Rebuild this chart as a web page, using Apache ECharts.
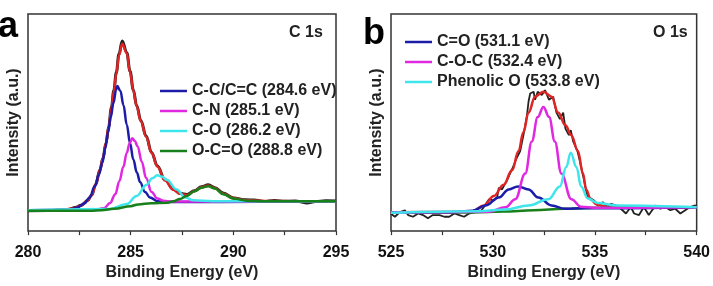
<!DOCTYPE html>
<html>
<head>
<meta charset="utf-8">
<script src="https://cdn.jsdelivr.net/npm/echarts@6/dist/echarts.min.js"></script>
<style>
  html, body { margin: 0; padding: 0; background: #fff; }
  #chart { width: 713px; height: 286px; }
</style>
</head>
<body>
<div id="chart"></div>
<script>
// x ticks (eV)
const ticksA = [280, 285, 290, 295]
const ticksB = [525, 530, 535, 540]
const legendA = ['C-C/C=C (284.6 eV)', 'C-N (285.1 eV)', 'C-O (286.2 eV)', 'O-C=O (288.8 eV)']
const legendB = ['C=O (531.1 eV)', 'C-O-C (532.4 eV)', 'Phenolic O (533.8 eV)']

// C 1s: [binding energy, intensity]
const c1sRaw = [[280, 9.4], [281, 9.5], [282, 10], [282.3, 10.9], [282.6, 11.9], [282.9, 14.1], [283.1, 16.6],
  [283.3, 21.6], [283.5, 28.1], [283.65, 33.6], [283.8, 40.6], [283.93, 48.2], [284.06, 56.8], [284.18, 64.8],
  [284.3, 73], [284.43, 81.6], [284.59, 87.6], [284.81, 82.2], [284.97, 73.6], [285.13, 65], [285.29, 57.8],
  [285.5, 50.8], [285.75, 43.8], [286.02, 36.2], [286.3, 30], [286.67, 23.6], [287.08, 19.3], [287.4, 17.4],
  [287.75, 16.9], [288.1, 18.6], [288.45, 20.4], [288.78, 21.3], [289.1, 20], [289.5, 17.6], [290, 15.3],
  [290.6, 14.4], [291, 14.3], [291.5, 13.6], [292, 14.1], [292.5, 13.7], [293, 13.9], [293.57, 13], [294, 13.6],
  [294.5, 14], [295, 13.9]]
const c1sFit = [[280, 9.6], [281.5, 9.6], [282.2, 10.4], [282.6, 11.8], [282.9, 14], [283.1, 16.5], [283.3, 21.5],
  [283.5, 28], [283.65, 33.5], [283.8, 40.5], [283.93, 48], [284.06, 56.5], [284.18, 64.5], [284.3, 72.5],
  [284.43, 81], [284.59, 86.3], [284.81, 81.9], [284.97, 73.3], [285.13, 64.7], [285.29, 57.5], [285.5, 50.5],
  [285.75, 43.5], [286.02, 36], [286.3, 29.8], [286.67, 23.3], [287.08, 19], [287.4, 17.2], [287.75, 16.6],
  [288.1, 18.4], [288.45, 20.2], [288.78, 21], [289.1, 19.8], [289.5, 17.3], [290, 15.2], [290.6, 14.2],
  [291.5, 13.9], [293, 13.8], [295, 13.7]]
const c1sCC = [[280, 9.6], [282, 9.7], [282.4, 10.8], [282.75, 12.8], [283, 15.5], [283.25, 20.5], [283.45, 26],
  [283.62, 31.5], [283.77, 38.5], [283.9, 45.5], [284.03, 52.5], [284.16, 59], [284.29, 65], [284.35, 66.8],
  [284.5, 64.5], [284.65, 58], [284.81, 49], [284.97, 40.5], [285.13, 33], [285.3, 27], [285.46, 22.5],
  [285.7, 18], [285.94, 15.5], [286.3, 13.8], [286.7, 13.4], [295, 13.7]]
const c1sCN = [[280, 9.6], [283.2, 9.7], [283.7, 10.5], [284, 13], [284.25, 17], [284.45, 23], [284.64, 29.5],
  [284.81, 36], [284.95, 40.5], [285.08, 42.8], [285.2, 41.5], [285.34, 39], [285.54, 32], [285.75, 24.5],
  [286.02, 18], [286.3, 15], [286.6, 14], [287, 13.6], [295, 13.7]]
const c1sCO = [[280, 9.6], [284, 10.2], [284.81, 12.5], [285.29, 16.2], [285.78, 21.4], [286.05, 24.3], [286.3, 25.7],
  [286.55, 25], [286.75, 23.6], [287.24, 19.2], [287.65, 15.5], [288.05, 14.2], [289, 13.8], [295, 13.8]]
const c1sOCO = [[280, 9.4], [283, 9.4], [283.57, 9.6], [284.2, 10.3], [285, 11.5], [285.36, 12.3], [286, 12.8],
  [286.8, 13.1], [287.08, 13.8], [287.4, 14.8], [287.73, 16.2], [288.1, 18.3], [288.45, 20], [288.78, 20.7],
  [289.1, 19.6], [289.51, 17], [290, 15], [290.65, 14], [291.5, 13.7], [295, 13.7]]

// O 1s
const o1sRaw = [[525, 8], [525.08, 7.4], [525.19, 6.6], [525.44, 8.8], [525.68, 9.6], [525.84, 7.4], [526.08, 6.6],
  [526.33, 8.1], [526.57, 7.4], [526.81, 5.9], [527.05, 7.4], [527.38, 7.4], [527.62, 6.6], [527.86, 6.6],
  [528.11, 8.1], [528.35, 7.4], [528.59, 6.6], [528.83, 8.1], [529.16, 8.8], [529.4, 9.1], [529.56, 11.1],
  [529.65, 12.5], [529.81, 14.7], [530.05, 14], [530.21, 15.5], [530.29, 19.9], [530.45, 19.2], [530.7, 23.6],
  [530.94, 28.5], [531.18, 33.9], [531.34, 36.9], [531.5, 44.2], [531.67, 53.1], [531.75, 59.7], [531.83, 63.4],
  [532, 64.2], [532.07, 60.5], [532.2, 64.2], [532.4, 62.7], [532.56, 64.9], [532.75, 60.5], [532.96, 61.9],
  [533.12, 54.6], [533.29, 51.6], [533.45, 54.6], [533.56, 47.2], [533.73, 44.2], [533.82, 46.5], [533.94, 41.3],
  [534.15, 36.9], [534.3, 31], [534.47, 23.6], [534.63, 16.2], [534.66, 17], [534.98, 14], [535.15, 11.8],
  [535.39, 13.3], [535.63, 11.1], [535.79, 12.5], [536.04, 11.8], [536.28, 10.3], [536.53, 8.1], [536.77, 11.1],
  [536.93, 8.1], [537.17, 7.4], [537.41, 11.1], [537.65, 7.4], [537.98, 11.8], [538.22, 10.3], [538.46, 11.1],
  [538.71, 9.6], [538.95, 10.3], [539.2, 8.1], [539.44, 9.6], [539.68, 11.1], [539.92, 11.8], [540, 11.5]]
const o1sFit = [[525, 8.7], [528, 8.8], [529, 9.2], [529.56, 11.8], [530.05, 16.2], [530.53, 21.4], [530.94, 28],
  [531.26, 36.9], [531.5, 45.7], [531.75, 54.6], [532.07, 61.9], [532.48, 64.2], [532.88, 61.9], [533.2, 54.6],
  [533.56, 48.7], [533.85, 44.2], [534.17, 36.9], [534.42, 26.5], [534.58, 19.2], [534.8, 14.5], [535.1, 12.2],
  [535.6, 11.2], [536.5, 11], [540, 11]]
const o1sBg = [[525, 8.5], [529, 8.6], [530.5, 9], [532, 9.6], [533.5, 10.3], [535, 10.8], [540, 11]]
const o1sCdO = [[525, 8.6], [528, 8.7], [529, 9.4], [529.65, 11.8], [530.29, 15.5], [530.78, 19.2], [531.23, 20.6],
  [531.75, 19.2], [532.23, 15.5], [532.88, 11.8], [533.53, 10.3], [534.5, 10.5], [540, 11]]
const o1sCOC = [[525, 8.6], [529.8, 8.9], [530.62, 11], [531.1, 14.7], [531.59, 26.5], [531.91, 41.3], [532.2, 52.5],
  [532.48, 57.2], [532.76, 52.5], [533.04, 41.3], [533.36, 26.5], [533.85, 14.7], [534.33, 11.2], [535.1, 10.7], [540, 11]]
const o1sPhen = [[525, 8.5], [529.3, 9.2], [530.62, 10], [531.75, 11.8], [532.72, 14.7], [533.29, 20.6], [533.6, 29.5],
  [533.82, 36.1], [534.1, 29.5], [534.33, 20.6], [534.66, 15], [535.15, 13], [536.1, 11.8], [540, 11]]

const FONT = '"Liberation Sans", Arial, sans-serif'
const BLUE = '#1c1ca8'
const MAGENTA = '#e028e0'
const CYAN = '#3ee6ec'
const GREEN = '#17801a'
const RED = '#e02424'

function xAxis(ticks, grid) {
  return {
    type: 'value',
    gridIndex: grid,
    min: ticks[0],
    max: ticks[ticks.length - 1],
    interval: 2.5,
    axisLine: { show: false },
    axisTick: { show: true, inside: false, length: 4, lineStyle: { color: '#333', width: 1.2 } },
    splitLine: { show: false },
    axisLabel: {
      margin: 13,
      color: '#111',
      fontFamily: FONT,
      fontWeight: 'bold',
      fontSize: 16,
      formatter: v => (ticks.indexOf(v) >= 0 ? String(v) : '')
    },
    name: 'Binding Energy (eV)',
    nameLocation: 'middle',
    nameGap: 25,
    nameTextStyle: { color: '#222', fontFamily: FONT, fontWeight: 'bold', fontSize: 16 }
  }
}

function yAxis(grid) {
  return {
    type: 'value',
    gridIndex: grid,
    min: 0,
    max: 100,
    axisLine: { show: false },
    axisTick: { show: false },
    axisLabel: { show: false },
    splitLine: { show: false },
    name: 'Intensity (a.u.)',
    nameLocation: 'middle',
    nameRotate: 90,
    nameGap: 6,
    nameTextStyle: { color: '#222', fontFamily: FONT, fontWeight: 'bold', fontSize: 16 }
  }
}

function line(name, data, color, idx, width, smooth) {
  return {
    name: name,
    type: 'line',
    xAxisIndex: idx,
    yAxisIndex: idx,
    data: data,
    color: color,
    symbol: 'none',
    smooth: smooth,
    smoothMonotone: 'x',
    lineStyle: { color: color, width: width },
    animation: false
  }
}

function legend(names, left, top) {
  return {
    data: names,
    orient: 'vertical',
    left: left,
    top: top,
    icon: 'rect',
    itemWidth: 27,
    itemHeight: 2.5,
    itemGap: 4,
    selectedMode: false,
    textStyle: { color: '#222', fontFamily: FONT, fontWeight: 'bold', fontSize: 16, lineHeight: 16 }
  }
}

const chart = echarts.init(document.getElementById('chart'))
chart.setOption({
  backgroundColor: '#fff',
  animation: false,
  grid: [
    { left: 28, top: 14, width: 308, height: 226, show: true, borderColor: '#333', borderWidth: 1.5, backgroundColor: 'transparent' },
    { left: 391, top: 14, width: 309, height: 226, show: true, borderColor: '#333', borderWidth: 1.5, backgroundColor: 'transparent' }
  ],
  xAxis: [xAxis(ticksA, 0), xAxis(ticksB, 1)],
  yAxis: [yAxis(0), yAxis(1)],
  legend: [legend(legendA, 155, 78), legend(legendB, 400, 29)],
  graphic: [
    { type: 'text', left: -2, top: 9, style: { text: 'a', font: 'bold 36px ' + FONT, fill: '#000' } },
    { type: 'text', left: 363, top: 16, style: { text: 'b', font: 'bold 36px ' + FONT, fill: '#000' } },
    { type: 'text', left: 289, top: 25, style: { text: 'C 1s', font: 'bold 16px ' + FONT, fill: '#222' } },
    { type: 'text', left: 653, top: 25, style: { text: 'O 1s', font: 'bold 16px ' + FONT, fill: '#222' } }
  ],
  series: [
    line('raw C 1s', c1sRaw, '#222', 0, 3, 0.4),
    line('fit C 1s', c1sFit, RED, 0, 2.5, 0.4),
    line(legendA[0], c1sCC, BLUE, 0, 2.5, 0.4),
    line(legendA[1], c1sCN, MAGENTA, 0, 2.5, 0.4),
    line(legendA[2], c1sCO, CYAN, 0, 2.5, 0.4),
    line(legendA[3], c1sOCO, GREEN, 0, 2.5, 0.4),
    line('raw O 1s', o1sRaw, '#222', 1, 1.8, false),
    line('fit O 1s', o1sFit, RED, 1, 2.5, 0.4),
    line('bg O 1s', o1sBg, GREEN, 1, 2.5, 0.4),
    line(legendB[0], o1sCdO, BLUE, 1, 2.5, 0.4),
    line(legendB[1], o1sCOC, MAGENTA, 1, 2.5, 0.4),
    line(legendB[2], o1sPhen, CYAN, 1, 2.5, 0.4)
  ]
})
</script>
</body>
</html>
